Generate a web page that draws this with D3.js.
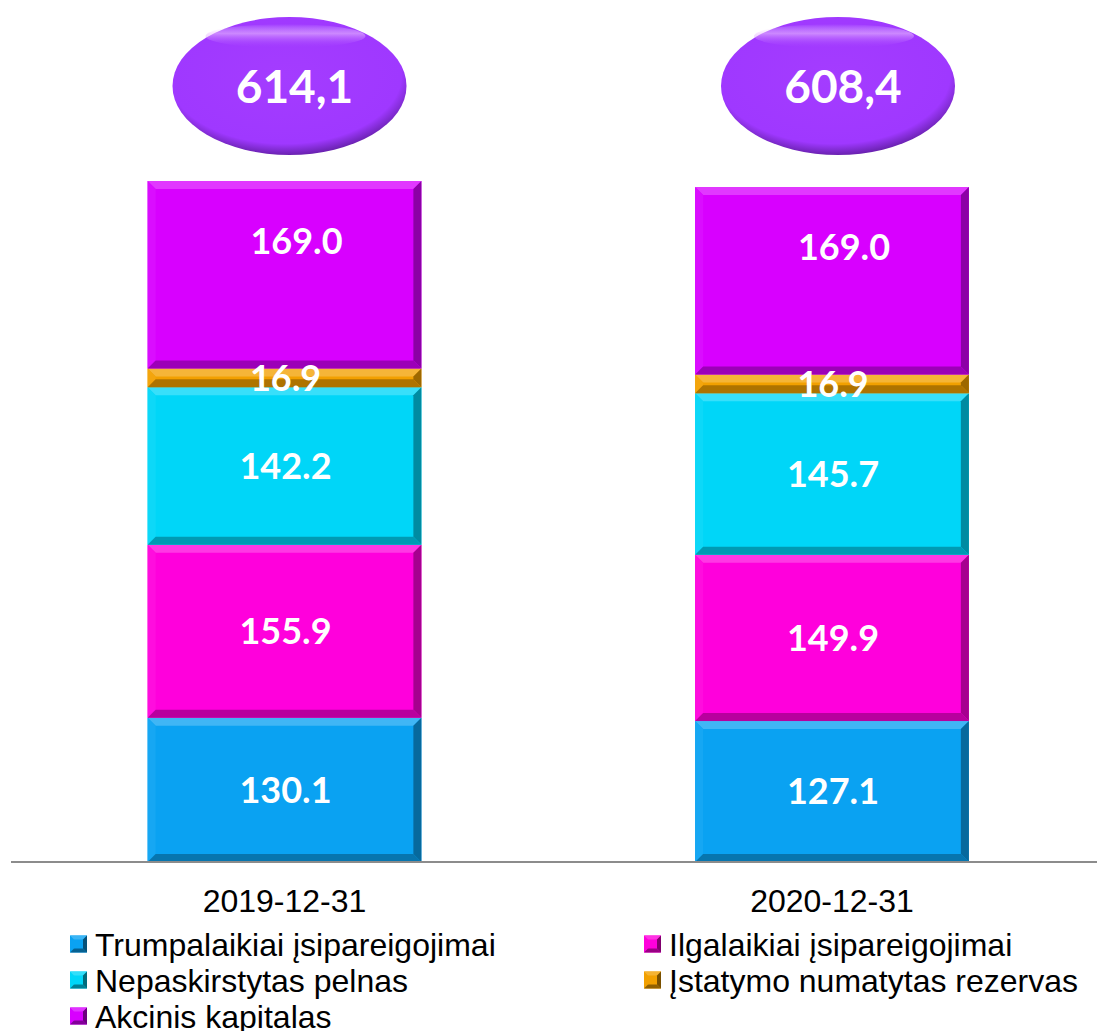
<!DOCTYPE html>
<html><head><meta charset="utf-8">
<script src="https://cdn.jsdelivr.net/npm/d3@7"></script>
<style>body{margin:0;background:#fff}svg{display:block}</style>
</head><body>
<script>
const categories = ["2019-12-31", "2020-12-31"];
const seriesNames = ["Trumpalaikiai įsipareigojimai", "Ilgalaikiai įsipareigojimai", "Nepaskirstytas pelnas", "Įstatymo numatytas rezervas", "Akcinis kapitalas"];
const trumpalaikiai = [130.1, 127.1];
const ilgalaikiai = [155.9, 149.9];
const pelnas = [142.2, 145.7];
const rezervas = [16.9, 16.9];
const kapitalas = [169.0, 169.0];
const totals = ["614,1", "608,4"];
const colors = ["#0aa2f2", "#ff00dc", "#00d6f8", "#f2a000", "#d800ff"];

const W = 1097, H = 1031;
const svg = d3.select("body").append("svg").attr("width", W).attr("height", H);
const seriesVals = [trumpalaikiai, ilgalaikiai, pelnas, rezervas, kapitalas];

const x = d3.scaleBand().domain(categories).range([10.75, 1105.75]).paddingInner(0.5).paddingOuter(0.25);
const y = d3.scaleLinear().domain([0, 614.1]).range([862, 181]);

const defs = svg.append("defs");
const eg = defs.append("radialGradient").attr("id", "eg").attr("cx", "48%").attr("cy", "42%").attr("r", "58%");
eg.append("stop").attr("offset", "0%").attr("stop-color", "#a43cff");
eg.append("stop").attr("offset", "86%").attr("stop-color", "#9f38ff");
eg.append("stop").attr("offset", "100%").attr("stop-color", "#6a22b0");
const hg = defs.append("linearGradient").attr("id", "hg").attr("x1", 0).attr("y1", 0).attr("x2", 0).attr("y2", 1);
hg.append("stop").attr("offset", "0%").attr("stop-color", "#ffffff").attr("stop-opacity", 0);
hg.append("stop").attr("offset", "40%").attr("stop-color", "#f0c8ff").attr("stop-opacity", 0.55);
hg.append("stop").attr("offset", "100%").attr("stop-color", "#a43cff").attr("stop-opacity", 0);

const stackData = categories.map((c, i) => {
  const o = {cat: c};
  seriesVals.forEach((s, k) => o["s" + k] = s[i]);
  return o;
});
const stack = d3.stack().keys(seriesVals.map((s, k) => "s" + k));
const layers = stack(stackData);

const bevel = 8;
function shade(col, k) { return k > 0 ? d3.interpolateRgb(col, "#ffffff")(k) : d3.interpolateRgb(col, "#000000")(-k); }

layers.forEach((layer, k) => {
  const col = colors[k];
  const g = svg.append("g");
  layer.forEach((d, i) => {
    const x0 = x(categories[i]), x1 = x0 + x.bandwidth();
    const yt = y(d[1]), yb = y(d[0]);
    const h = yb - yt;
    const b = Math.min(bevel, h / 2);
    g.append("rect").attr("x", x0).attr("y", yt).attr("width", x1 - x0).attr("height", h).attr("fill", col);
    g.append("polygon").attr("points", [[x0, yt], [x1, yt], [x1 - b, yt + b], [x0 + b, yt + b]].join(" ")).attr("fill", shade(col, 0.22));
    g.append("polygon").attr("points", [[x0, yt], [x0 + b, yt + b], [x0 + b, yb - b], [x0, yb]].join(" ")).attr("fill", shade(col, 0.05));
    g.append("polygon").attr("points", [[x1, yt], [x1 - b, yt + b], [x1 - b, yb - b], [x1, yb]].join(" ")).attr("fill", shade(col, -0.35));
    g.append("polygon").attr("points", [[x0, yb], [x0 + b, yb - b], [x1 - b, yb - b], [x1, yb]].join(" ")).attr("fill", shade(col, -0.28));
  });
});

svg.append("line").attr("x1", 11).attr("x2", W).attr("y1", y(0)).attr("y2", y(0)).attr("stroke", "#8c8c8c").attr("stroke-width", 2);

layers.forEach((layer, k) => {
  layer.forEach((d, i) => {
    const cx = x(categories[i]) + x.bandwidth() / 2;
    const top = k === layers.length - 1;
    svg.append("text")
      .attr("x", cx + (top ? 12 : 1))
      .attr("y", (y(d[0]) + y(d[1])) / 2 - (top ? 34 : 0))
      .attr("dy", "0.36em")
      .attr("text-anchor", "middle")
      .attr("font-family", "Lato, 'Open Sans', sans-serif")
      .attr("font-weight", 700)
      .attr("font-size", 36)
      .attr("fill", "#fff")
      .text(d.data["s" + k].toFixed(1));
  });
});

categories.forEach((c, i) => {
  const cx = x(c) + x.bandwidth() / 2 + 5 + i * 1;
  const cy = 86;
  svg.append("ellipse").attr("cx", cx).attr("cy", cy).attr("rx", 117).attr("ry", 69).attr("fill", "url(#eg)");
  svg.append("ellipse").attr("cx", cx - 4).attr("cy", cy - 50).attr("rx", 80).attr("ry", 12).attr("fill", "url(#hg)");
  svg.append("text").attr("x", cx + 5).attr("y", cy).attr("dy", "0.36em")
    .attr("text-anchor", "middle").attr("font-family", "Lato, 'Open Sans', sans-serif")
    .attr("font-weight", 700).attr("font-size", 46).attr("fill", "#fff").text(totals[i]);
});

const xAxis = svg.append("g").attr("transform", `translate(0,${y(0)})`)
  .call(d3.axisBottom(x).tickSize(0).tickPadding(27));
xAxis.select(".domain").remove();
xAxis.selectAll("text").attr("font-family", "'Liberation Sans', Arial, sans-serif").attr("font-size", 32).attr("fill", "#000").attr("dy", "0.71em");

const legPos = [[70, 944], [644, 944], [70, 980], [644, 980], [70, 1016]];
seriesNames.forEach((n, k) => {
  const [lx, ly] = legPos[k];
  const g = svg.append("g").attr("transform", `translate(${lx},${ly})`);
  const s = 17, b = 4, col = colors[k];
  g.append("rect").attr("x", 0).attr("y", -s / 2).attr("width", s).attr("height", s).attr("fill", col);
  g.append("polygon").attr("points", [[0, -s/2], [s, -s/2], [s/2, 0]].join(" ")).attr("fill", shade(col, 0.2));
  g.append("polygon").attr("points", [[0, s/2], [s, s/2], [s/2, 0]].join(" ")).attr("fill", shade(col, -0.4));
  g.append("polygon").attr("points", [[s, -s/2], [s, s/2], [s/2, 0]].join(" ")).attr("fill", shade(col, -0.5));
  g.append("rect").attr("x", b).attr("y", -s/2 + b).attr("width", s - 2*b).attr("height", s - 2*b).attr("fill", col);
  g.append("text").attr("x", 25).attr("y", 0).attr("dy", "0.36em")
    .attr("font-family", "'Liberation Sans', Arial, sans-serif").attr("font-size", 32).attr("fill", "#000").text(n);
});
</script>
</body></html>
